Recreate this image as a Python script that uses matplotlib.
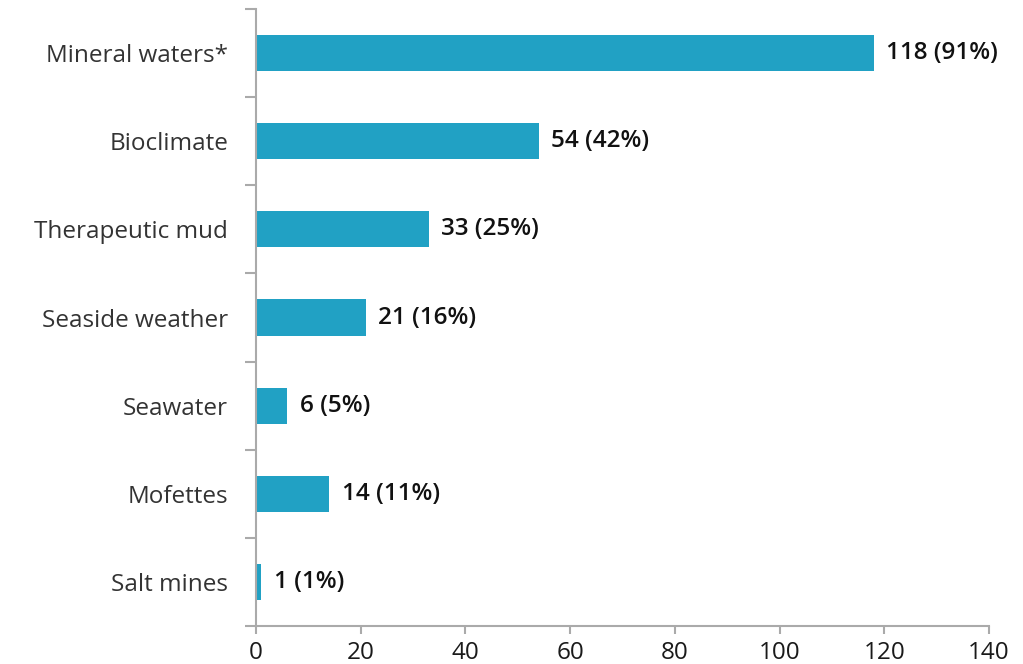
import matplotlib.pyplot as plt

# data
categories = ["Mineral waters*", "Bioclimate", "Therapeutic mud", "Seaside weather",
              "Seawater", "Mofettes", "Salt mines"]
counts = [118, 54, 33, 21, 6, 14, 1]
shares = [91, 42, 25, 16, 5, 11, 1]

plt.rcParams['font.family'] = ['Open Sans', 'DejaVu Sans']

fig = plt.figure(figsize=(10.23, 6.64), dpi=100)
ax = fig.add_axes([256 / 1023, 1 - 626 / 664, (989 - 256) / 1023, (626 - 9) / 664])

ypos = list(range(len(categories)))
ax.barh(ypos, counts, height=0.41, color='#21a1c4')

# value labels next to bars
for y, c, s in zip(ypos, counts, shares):
    ax.annotate(f"{c} ({s}%)", (c, y), xytext=(9, 0), textcoords='offset points',
                va='center', ha='left', fontsize=17.5, color='#111111', fontweight='semibold')

ax.set_ylim(len(categories) - 0.5, -0.5)
ax.set_xlim(0, 140)
ax.set_xticks(range(0, 141, 20))

ax.set_yticks(ypos)
ax.set_yticklabels(categories, fontsize=17.5, color='#333333')
ax.set_yticks([i - 0.5 for i in range(len(categories) + 1)], minor=True)
ax.tick_params(axis='y', which='major', length=0, pad=20)
ax.tick_params(axis='y', which='minor', length=8, width=1.5, color='#aaaaaa')
ax.tick_params(axis='x', length=6, width=1.5, color='#aaaaaa', labelsize=17.5,
               labelcolor='#1a1a1a', pad=5)

for side in ['top', 'right']:
    ax.spines[side].set_visible(False)
for side in ['left', 'bottom']:
    ax.spines[side].set_color('#aaaaaa')
    ax.spines[side].set_linewidth(1.5)

fig.savefig('out.png', dpi=100)
